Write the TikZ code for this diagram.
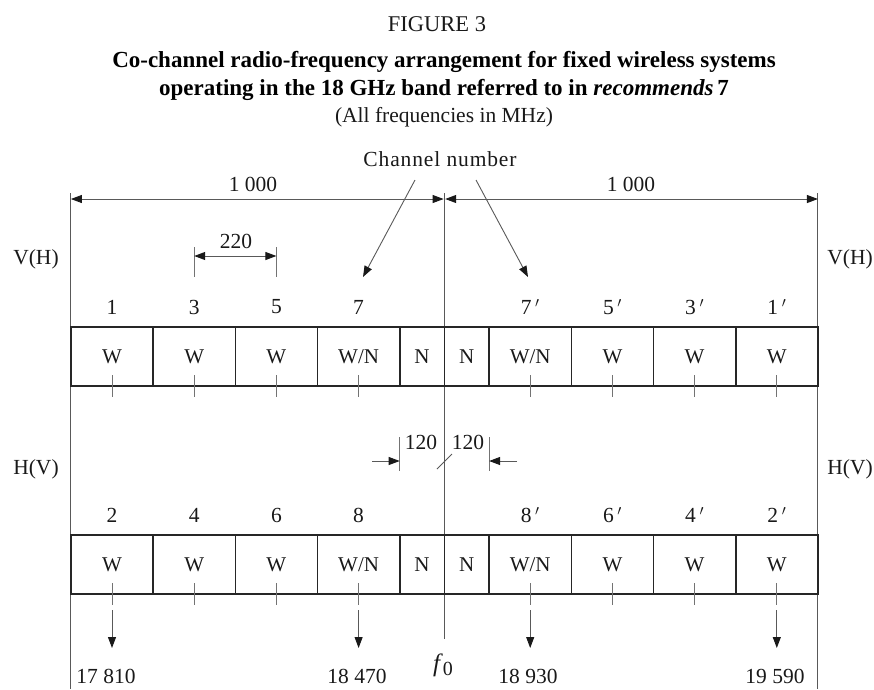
\documentclass[tikz,border=0pt]{standalone}
\usepackage{fontspec}
\setmainfont{Liberation Serif}
\usetikzlibrary{arrows.meta}
\begin{document}
\begin{tikzpicture}[x=1pt,y=-1pt,
  lbl/.style={font=\fontsize{21.5}{24}\selectfont, inner sep=0pt, text=black!90},
  ttl/.style={font=\fontsize{23}{27}\selectfont\bfseries, inner sep=0pt, text=black},
  chbox/.style={draw=black!85, line width=1.6pt, minimum height=59pt, inner sep=0pt,
                font=\fontsize{21}{24}\selectfont, text=black!90},
  thinln/.style={draw=black!65, line width=0.9pt},
  tickln/.style={draw=black!55, line width=0.9pt},
  tip/.style={-{Triangle[length=11pt,width=8pt,color=black!90]}},
  tips/.style={{Triangle[length=11pt,width=8pt,color=black!90]}-{Triangle[length=11pt,width=8pt,color=black!90]}},
]
\useasboundingbox (0,0) rectangle (874,689);

% titles
\node[lbl, font=\fontsize{22.5}{26}\selectfont] (fig) at (437,24) {FIGURE 3};
\node[ttl] (t1) at (444,62) {Co-channel radio-frequency arrangement for fixed wireless systems};
\node[ttl] (t2) at (444,90) {operating in the 18 GHz band referred to in \textit{recommends}\,7};
\node[lbl, font=\fontsize{21.5}{25}\selectfont] (t3) at (444,117) {(All frequencies in MHz)};

% main vertical lines
\coordinate (Ltop) at (70.9,193); \coordinate (Lbot) at (70.9,689);
\coordinate (Rtop) at (817.9,193); \coordinate (Rbot) at (817.9,689);
\coordinate (Ctop) at (444.4,193); \coordinate (Cbot) at (444.4,639);
\draw[thinln] (Ltop) -- (Lbot);
\draw[thinln] (Rtop) -- (Rbot);
\draw[thinln] (Ctop) -- (Cbot);

% 1000 dimensions
\coordinate (dL) at (70.9,199); \coordinate (dC1) at (443.6,199);
\coordinate (dC2) at (445.2,199); \coordinate (dR) at (817.9,199);
\draw[thinln, tips] (dL) -- (dC1);
\draw[thinln, tips] (dC2) -- (dR);
\node[lbl] (k1) at (253,184) {1 000};
\node[lbl] (k2) at (631,184) {1 000};

% channel number
\node[lbl, font=\fontsize{21.5}{24}\selectfont\addfontfeature{LetterSpace=4}] (chn) at (440,159) {Channel number};
\coordinate (chA) at (415,180); \coordinate (chAt) at (363,277);
\coordinate (chB) at (476,180); \coordinate (chBt) at (528,277);
\draw[thinln, tip] (chA) -- (chAt);
\draw[thinln, tip] (chB) -- (chBt);

% polarisation labels
\node[lbl] (vhL) at (36,259) {V(H)};
\node[lbl] (vhR) at (850,259) {V(H)};
\node[lbl] (hvL) at (36,469) {H(V)};
\node[lbl] (hvR) at (850,469) {H(V)};

% 220 dimension
\coordinate (s1t) at (194.2,247); \coordinate (s1b) at (194.2,277);
\coordinate (s2t) at (276.4,247); \coordinate (s2b) at (276.4,277);
\draw[tickln] (s1t) -- (s1b);
\draw[tickln] (s2t) -- (s2b);
\coordinate (s1m) at (194.2,256); \coordinate (s2m) at (276.4,256);
\draw[thinln, tips] (s1m) -- (s2m);
\node[lbl] (d220) at (236,241) {220};

% row 1 boxes
\foreach \i/\cx/\w/\t in {1/112/82.2/W, 2/194.2/82.2/W, 3/276.4/82.2/W, 4/358.6/82.2/{W/N},
                          5/422.05/44.7/N, 6/466.75/44.7/N,
                          7/530.2/82.2/{W/N}, 8/612.4/82.2/W, 9/694.6/82.2/W, 10/776.8/82.2/W}
  \node[chbox, minimum width=\w pt] (a\i) at (\cx,356.5) {\t};
% row 2 boxes
\foreach \i/\cx/\w/\t in {1/112/82.2/W, 2/194.2/82.2/W, 3/276.4/82.2/W, 4/358.6/82.2/{W/N},
                          5/422.05/44.7/N, 6/466.75/44.7/N,
                          7/530.2/82.2/{W/N}, 8/612.4/82.2/W, 9/694.6/82.2/W, 10/776.8/82.2/W}
  \node[chbox, minimum width=\w pt] (b\i) at (\cx,564.5) {\t};

% channel numbers
\foreach \i/\t in {1/1, 2/3, 3/5, 4/7, 7/7\,$^\prime$, 8/5\,$^\prime$, 9/3\,$^\prime$, 10/1\,$^\prime$}
  \node[lbl] (na\i) at ([yshift=49.5pt]a\i.center) {\t};
\foreach \i/\t in {1/2, 2/4, 3/6, 4/8, 7/8\,$^\prime$, 8/6\,$^\prime$, 9/4\,$^\prime$, 10/2\,$^\prime$}
  \node[lbl] (nb\i) at ([yshift=49.5pt]b\i.center) {\t};

% centre ticks
\foreach \i in {1,2,3,4,7,8,9,10}{
  \draw[tickln] ([yshift=-18.5pt]a\i.center) -- ([yshift=-40.5pt]a\i.center);
  \draw[tickln] ([yshift=-18.5pt]b\i.center) -- ([yshift=-40.5pt]b\i.center);
}

% frequency arrows
\foreach \i in {1,4,7,10}
  \draw[thinln, tip] ([yshift=-45.5pt]b\i.center) -- ([yshift=-83.5pt]b\i.center);

% 120 dimensions
\coordinate (u1t) at (399.7,437); \coordinate (u1b) at (399.7,471);
\coordinate (u2t) at (489.1,437); \coordinate (u2b) at (489.1,471);
\draw[tickln] (u1t) -- (u1b);
\draw[tickln] (u2t) -- (u2b);
\coordinate (u1o) at (372,461); \coordinate (u1i) at (399.7,461);
\coordinate (u2o) at (517,461); \coordinate (u2i) at (489.1,461);
\draw[thinln, tip] (u1o) -- (u1i);
\draw[thinln, tip] (u2o) -- (u2i);
\coordinate (sl1) at (437,469); \coordinate (sl2) at (452,454);
\draw[thinln] (sl1) -- (sl2);
\node[lbl] (h1) at (421,442) {120};
\node[lbl] (h2) at (468,442) {120};

% f0 and frequencies
\node[lbl, font=\fontsize{25}{27}\selectfont] (f0) at (443,665) {\textit{f}\raisebox{-0.35ex}{\fontsize{20}{21}\selectfont 0}};
\node[lbl] (q1) at (106,676) {17 810};
\node[lbl] (q2) at (357,676) {18 470};
\node[lbl] (q3) at (528,676) {18 930};
\node[lbl] (q4) at (775,676) {19 590};
\end{tikzpicture}
\end{document}
